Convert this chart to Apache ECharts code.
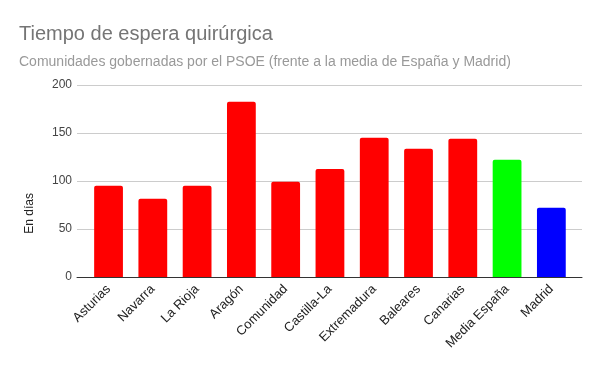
<!DOCTYPE html>
<html><head><meta charset="utf-8">
<script src="https://cdn.jsdelivr.net/npm/echarts@6/dist/echarts.min.js"></script>
<style>html,body{margin:0;padding:0;background:#fff}#c{width:600px;height:371px}</style>
</head><body><div id="c"></div>
<script>
const categories = ["Asturias","Navarra","La Rioja","Aragón","Comunidad","Castilla-La","Extremadura","Baleares","Canarias","Media España","Madrid"];
const values = [95, 81.5, 95, 182.5, 99.3, 112.5, 145, 133.7, 144, 122.2, 72.2];
const barColors = ["#ff0000","#ff0000","#ff0000","#ff0000","#ff0000","#ff0000","#ff0000","#ff0000","#ff0000","#00ff00","#0000ff"];
const yTicks = [0, 50, 100, 150, 200];
const yTitle = "En días";

const FONT = "Arial, 'Liberation Sans', sans-serif";
const chart = echarts.init(document.getElementById('c'), null, {renderer:'canvas'});
chart.setOption({
  animation:false,
  title:{
    text:"Tiempo de espera quirúrgica",
    subtext:"Comunidades gobernadas por el PSOE (frente a la media de España y Madrid)",
    left:14, top:19,
    itemGap:11,
    textStyle:{fontFamily:FONT,fontSize:20,fontWeight:'normal',color:'#757575'},
    subtextStyle:{fontFamily:FONT,fontSize:14,color:'#999999'}
  },
  grid:[
    {left:77, right:18, top:85, bottom:94},
    {left:86.4, right:26.5, top:85, bottom:94}
  ],
  xAxis:[
    {gridIndex:0, type:'category', data:categories,
     axisLine:{lineStyle:{color:'#333',width:1}}, axisTick:{show:false}, axisLabel:{show:false}},
    {gridIndex:1, type:'category', data:categories,
     axisLine:{show:false}, axisTick:{show:false},
     axisLabel:{rotate:45, interval:0, fontFamily:FONT, fontSize:13, color:'#222', margin:10}}
  ],
  yAxis:[
    {gridIndex:0, type:'value', min:yTicks[0], max:yTicks[yTicks.length-1], interval:50,
     axisLine:{show:false}, axisTick:{show:false},
     axisLabel:{fontFamily:FONT, fontSize:12, color:'#444', margin:5},
     splitLine:{lineStyle:{color:'#cccccc',width:1}}},
    {gridIndex:1, type:'value', min:yTicks[0], max:yTicks[yTicks.length-1], interval:50,
     axisLine:{show:false}, axisTick:{show:false}, axisLabel:{show:false}, splitLine:{show:false}}
  ],
  graphic:[{
    type:'text', left:24, top:193, rotation:Math.PI/2,
    style:{text:yTitle, font:"12px Arial, 'Liberation Sans', sans-serif", fill:'#222'}
  }],
  series:[{
    type:'bar', xAxisIndex:1, yAxisIndex:1, barWidth:'65%',
    data:values.map((v,i)=>({value:v,itemStyle:{color:barColors[i],borderRadius:[2,2,0,0]}}))
  }]
});
</script></body></html>
